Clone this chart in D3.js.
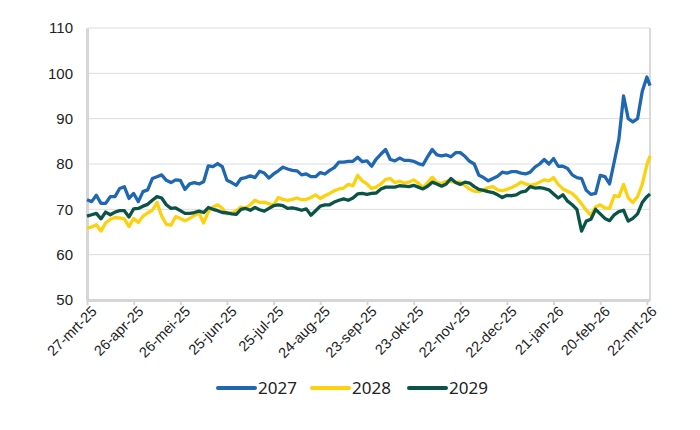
<!DOCTYPE html>
<html>
<head>
<meta charset="utf-8">
<script src="https://cdn.jsdelivr.net/npm/d3@7"></script>
<style>
  body { margin: 0; background: #fff; }
  svg { display: block; font-family: "Noto Sans", sans-serif; }
</style>
</head>
<body>
<svg width="700" height="430"></svg>
<script>
// dagen vanaf 27-mrt-25, ongeveer elke 3 dagen
const startDate = new Date(Date.UTC(2025, 2, 27));
const dayOffsets = d3.range(0, 361, 3).concat([362]);
const dates = dayOffsets.map(d => d3.utcDay.offset(startDate, d));

const serie2027 = [
  72.1, 71.7, 73.1, 71.3, 71.3, 72.8, 72.8, 74.6, 75.0, 72.4, 73.5, 71.7, 73.9, 74.3, 76.8, 77.2,
  77.6, 76.4, 75.9, 76.5, 76.4, 74.4, 75.6, 75.9, 75.6, 76.1, 79.6, 79.4, 80.1, 79.4, 76.4, 75.9,
  75.3, 76.8, 77.0, 77.4, 77.0, 78.4, 78.0, 76.9, 77.8, 78.5, 79.3, 78.9, 78.6, 78.5, 77.6, 77.8,
  77.2, 77.2, 78.1, 77.8, 78.6, 79.2, 80.4, 80.4, 80.6, 80.6, 81.5, 80.5, 80.7, 79.5, 81.1, 82.2,
  83.2, 81.0, 80.7, 81.3, 80.8, 80.8, 80.6, 80.1, 79.8, 81.6, 83.2, 82.0, 81.8, 82.0, 81.6, 82.5,
  82.5, 81.7, 80.6, 80.0, 77.5, 77.0, 76.3, 76.8, 77.3, 78.2, 78.0, 78.3, 78.3, 78.0, 77.8, 78.2,
  79.3, 80.0, 81.0, 80.0, 81.2, 79.5, 79.5, 79.0, 77.6, 77.0, 76.8, 74.2, 73.3, 73.5, 77.5, 77.2,
  75.6, 80.5, 85.5, 95.0, 90.0, 89.3, 90.0, 96.0, 99.2, 97.3
];
const serie2028 = [
  65.9, 66.1, 66.6, 65.2, 67.0, 67.8, 68.2, 68.1, 67.9, 66.2, 68.0, 67.1, 68.5, 69.2, 69.8, 71.5,
  68.5, 66.7, 66.5, 68.4, 68.0, 67.5, 68.0, 68.6, 69.2, 67.0, 69.5, 70.5, 71.0, 70.2, 69.0, 69.2,
  69.7, 70.5, 70.2, 71.0, 72.0, 71.5, 71.6, 71.2, 71.0, 72.6, 72.2, 72.0, 72.2, 72.5, 72.1, 72.2,
  72.6, 73.2, 72.4, 73.0, 73.5, 74.1, 74.5, 74.7, 75.5, 75.2, 77.5, 76.3, 75.6, 74.6, 74.9, 75.6,
  76.6, 76.8, 75.9, 76.2, 75.8, 76.0, 76.5, 75.8, 74.8, 75.9, 77.1, 75.9, 75.7, 76.2, 76.1, 76.0,
  76.0, 75.2, 74.5, 74.0, 73.9, 74.3, 74.8, 75.0, 74.3, 74.1, 74.4, 74.8, 75.3, 76.0, 75.6, 75.3,
  75.5, 76.0, 76.5, 76.3, 77.0, 75.5, 74.5, 74.0, 73.5, 72.5, 71.2, 69.8, 68.7, 70.5, 71.0, 70.3,
  70.2, 73.0, 72.8, 75.5, 72.5, 71.5, 72.8, 75.5, 79.8, 81.8
];
const serie2029 = [
  68.5, 68.8, 69.1, 67.9, 69.4, 68.8, 69.4, 69.7, 69.7, 68.3, 70.1, 70.2, 70.7, 71.1, 72.0, 72.8,
  72.5, 71.0, 70.2, 70.3, 69.7, 69.1, 69.1, 69.3, 69.6, 69.3, 70.4, 70.0, 69.7, 69.3, 69.2, 69.0,
  68.9, 70.0, 70.2, 69.8, 70.4, 69.9, 69.6, 70.2, 70.8, 71.0, 70.8, 70.2, 70.3, 70.1, 69.8, 70.1,
  68.7, 69.7, 70.7, 71.0, 71.0, 71.6, 72.0, 72.3, 72.0, 72.5, 73.4, 73.5, 73.3, 73.5, 73.6, 74.5,
  74.9, 74.9, 74.9, 75.2, 75.1, 75.0, 75.3, 74.9, 74.5, 75.1, 76.0, 75.6, 75.1, 75.6, 76.8, 75.9,
  75.5, 76.0, 75.8, 75.0, 74.4, 74.2, 73.9, 73.7, 73.2, 72.6, 73.1, 73.0, 73.2, 73.8, 74.0, 75.0,
  74.7, 74.8, 74.6, 74.3, 73.4, 72.5, 73.2, 71.8, 71.0, 70.0, 65.2, 67.4, 67.8, 70.0, 69.0, 68.0,
  67.5, 68.8, 69.5, 69.8, 67.4, 68.0, 69.0, 71.5, 72.8, 73.4
];

const seriesNames = ["2027", "2028", "2029"];
const seriesColors = ["#1f68b1", "#fcd20f", "#0b5347"];
const yTicks = [50, 60, 70, 80, 90, 100, 110];
const xTickOffsets = d3.range(0, 361, 30);

const nl = d3.timeFormatLocale({
  dateTime: "%a %e %B %Y %X", date: "%d-%m-%Y", time: "%H:%M:%S",
  periods: ["AM", "PM"],
  days: ["zondag", "maandag", "dinsdag", "woensdag", "donderdag", "vrijdag", "zaterdag"],
  shortDays: ["zo", "ma", "di", "wo", "do", "vr", "za"],
  months: ["januari", "februari", "maart", "april", "mei", "juni", "juli", "augustus", "september", "oktober", "november", "december"],
  shortMonths: ["jan", "feb", "mrt", "apr", "mei", "jun", "jul", "aug", "sep", "okt", "nov", "dec"]
});
const fmt = nl.utcFormat("%d-%b-%y");

const svg = d3.select("svg");
const area = { left: 87, right: 650, top: 28, bottom: 300 };

const x = d3.scaleUtc()
  .domain([startDate, d3.utcDay.offset(startDate, 362)])
  .range([area.left, area.right]);
const y = d3.scaleLinear().domain([50, 110]).range([area.bottom, area.top]);

// rasterlijnen
svg.append("g")
  .selectAll("line")
  .data(yTicks)
  .join("line")
  .attr("x1", area.left).attr("x2", area.right)
  .attr("y1", d => y(d)).attr("y2", d => y(d))
  .attr("stroke", "#dcdcdc").attr("stroke-width", 1);

// rechter rand
svg.append("line")
  .attr("x1", area.right).attr("x2", area.right)
  .attr("y1", area.top).attr("y2", area.bottom)
  .attr("stroke", "#d9d9d9").attr("stroke-width", 2);

// y-as
const axisY = svg.append("g")
  .attr("transform", `translate(${area.left},0)`)
  .call(d3.axisLeft(y).tickValues(yTicks).tickSize(0).tickPadding(14));
axisY.select(".domain").attr("stroke", "#d6d6d6").attr("stroke-width", 3);
axisY.selectAll("text").attr("font-size", 15).attr("fill", "#222");

// x-as
const axisX = svg.append("g")
  .attr("transform", `translate(0,${area.bottom})`)
  .call(d3.axisBottom(x)
    .tickValues(xTickOffsets.map(d => d3.utcDay.offset(startDate, d)))
    .tickFormat(fmt)
    .tickSize(5)
    .tickSizeOuter(0));
axisX.select(".domain").attr("stroke", "#d6d6d6").attr("stroke-width", 3);
axisX.selectAll(".tick line").attr("stroke", "#d6d6d6").attr("stroke-width", 2);
axisX.selectAll("text")
  .attr("font-size", 14.5)
  .attr("fill", "#222")
  .style("text-anchor", "end")
  .attr("dx", "-0.1em")
  .attr("dy", "0.55em")
  .attr("transform", "rotate(-45)");

// lijnen
const allSeries = [serie2027, serie2028, serie2029];
const line = d3.line()
  .x((d, i) => x(dates[i]))
  .y(d => y(d));

svg.append("g")
  .selectAll("path")
  .data(allSeries)
  .join("path")
  .attr("fill", "none")
  .attr("stroke", (d, i) => seriesColors[i])
  .attr("stroke-width", 3.3)
  .attr("stroke-linejoin", "round")
  .attr("d", line);

// legenda
const legendX = [218, 312, 409];
const legend = svg.append("g").attr("transform", "translate(0,388)");
seriesNames.forEach((name, i) => {
  legend.append("line")
    .attr("x1", legendX[i]).attr("x2", legendX[i] + 37)
    .attr("y1", 0).attr("y2", 0)
    .attr("stroke", seriesColors[i]).attr("stroke-width", 4)
    .attr("stroke-linecap", "round");
  legend.append("text")
    .attr("x", legendX[i] + 40).attr("y", 0)
    .attr("dy", "0.35em")
    .attr("font-size", 17)
    .attr("fill", "#222")
    .text(name);
});
</script>
</body>
</html>
